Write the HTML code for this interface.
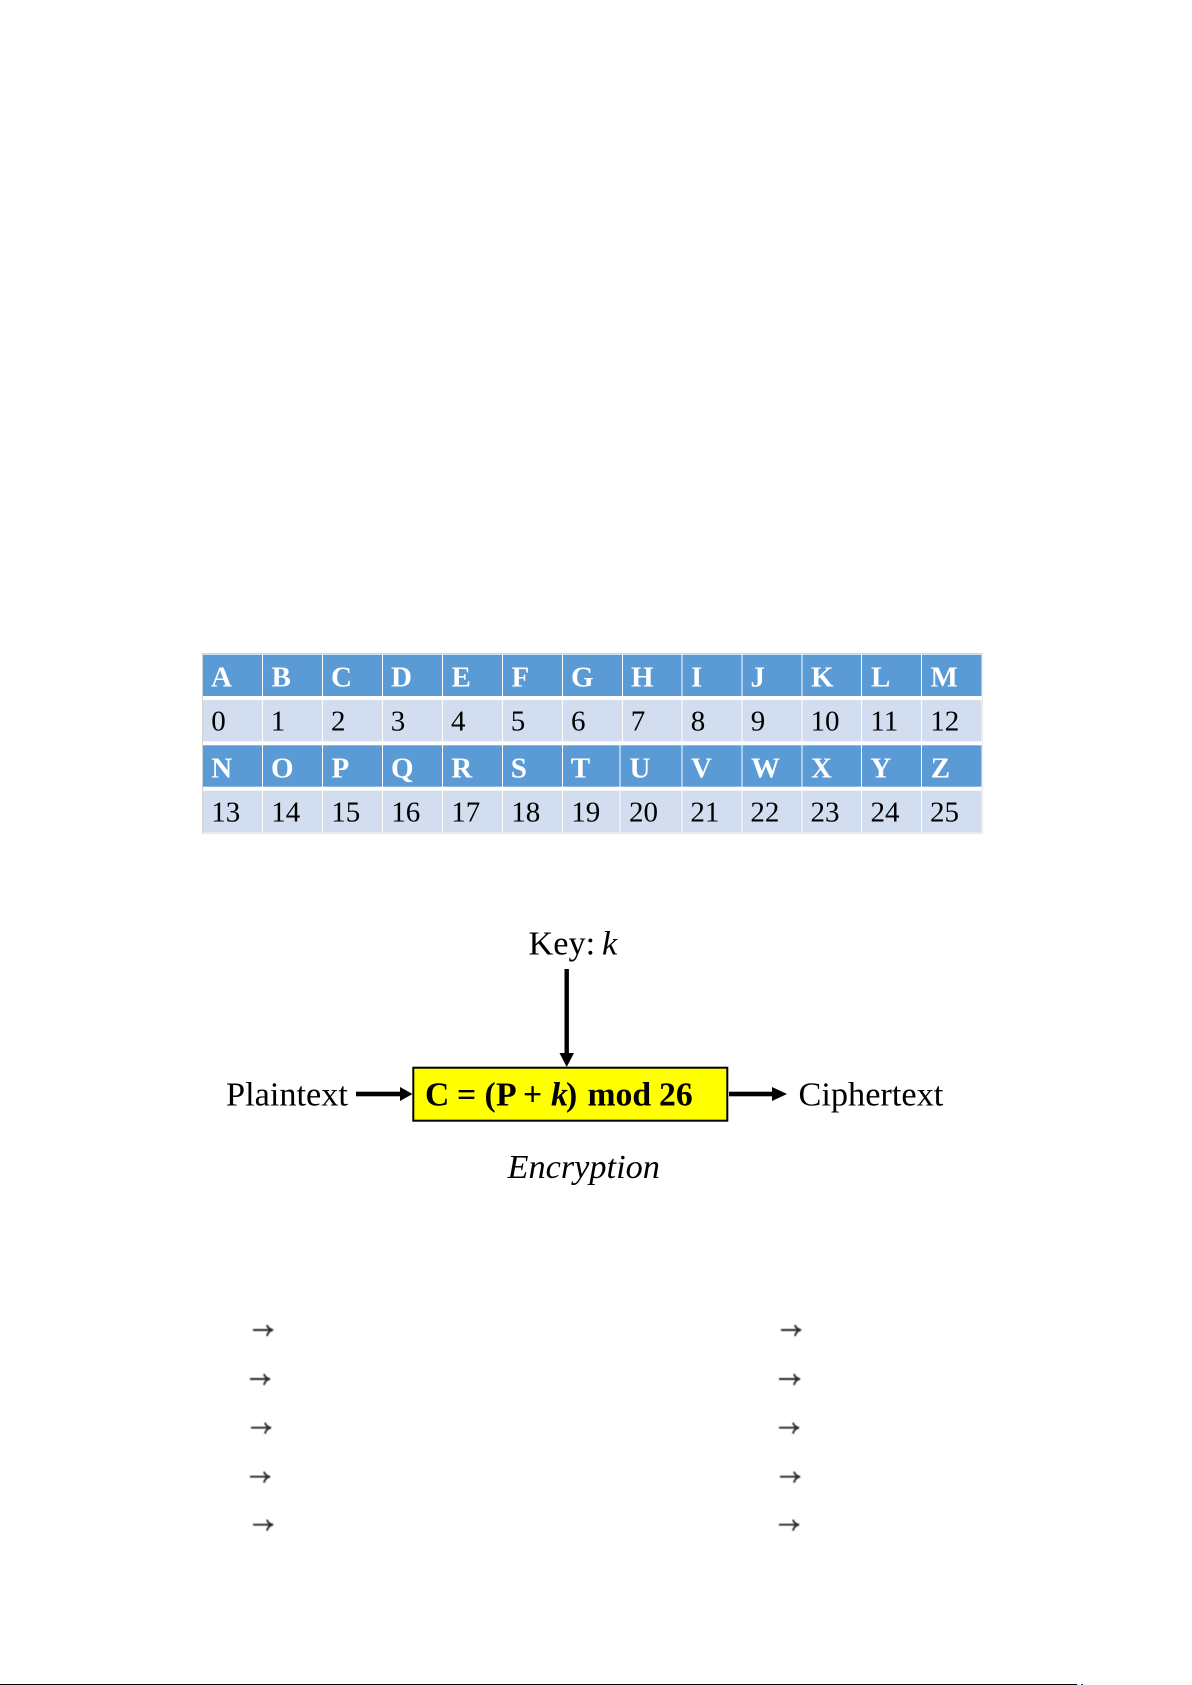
<!DOCTYPE html>
<html><head><meta charset="utf-8"><style>
html,body{margin:0;padding:0;background:#fff;width:1192px;height:1685px;overflow:hidden}
svg{display:block}
text{font-family:"Liberation Serif",serif}
.h{font-weight:bold;font-size:29px;fill:#fff}
.n{font-size:29px;fill:#000}
.d{font-size:34.3px;fill:#000}
.f{font-size:33.7px;font-weight:bold;fill:#000}
</style></head><body>
<svg width="1192" height="1685" viewBox="0 0 1192 1685" xmlns="http://www.w3.org/2000/svg">
<defs><filter id="b" x="-30%" y="-100%" width="160%" height="300%"><feGaussianBlur stdDeviation="0.6"/></filter>
<filter id="s" x="-5%" y="-5%" width="110%" height="110%"><feGaussianBlur stdDeviation="0.3"/></filter></defs>
<rect x="202" y="653" width="780.5" height="180.5" fill="#d4d4d4"/>
<rect x="203" y="654" width="779" height="178.5" fill="#fff"/>
<g fill="#5B9BD5">
<rect x="203" y="654.7" width="59" height="41.3"/><rect x="263" y="654.7" width="59" height="41.3"/><rect x="323" y="654.7" width="59" height="41.3"/><rect x="383" y="654.7" width="59" height="41.3"/><rect x="443" y="654.7" width="59" height="41.3"/><rect x="503" y="654.7" width="59" height="41.3"/><rect x="563" y="654.7" width="59" height="41.3"/><rect x="623" y="654.7" width="58.5" height="41.3"/><rect x="682.5" y="654.7" width="59" height="41.3"/><rect x="742.5" y="654.7" width="59" height="41.3"/><rect x="802.5" y="654.7" width="58.5" height="41.3"/><rect x="862" y="654.7" width="59" height="41.3"/><rect x="922" y="654.7" width="59.5" height="41.3"/>
<rect x="203" y="745.3" width="59" height="41.4"/><rect x="263" y="745.3" width="59" height="41.4"/><rect x="323" y="745.3" width="59" height="41.4"/><rect x="383" y="745.3" width="59" height="41.4"/><rect x="443" y="745.3" width="59" height="41.4"/><rect x="503" y="745.3" width="59" height="41.4"/><rect x="563" y="745.3" width="56.5" height="41.4"/><rect x="620.5" y="745.3" width="61" height="41.4"/><rect x="682.5" y="745.3" width="59" height="41.4"/><rect x="742.5" y="745.3" width="59" height="41.4"/><rect x="802.5" y="745.3" width="58.5" height="41.4"/><rect x="862" y="745.3" width="59" height="41.4"/><rect x="922" y="745.3" width="59.5" height="41.4"/>
</g>
<g fill="#D2DEEF">
<rect x="203" y="700" width="59" height="41.3"/><rect x="263" y="700" width="59" height="41.3"/><rect x="323" y="700" width="59" height="41.3"/><rect x="383" y="700" width="59" height="41.3"/><rect x="443" y="700" width="59" height="41.3"/><rect x="503" y="700" width="59" height="41.3"/><rect x="563" y="700" width="59" height="41.3"/><rect x="623" y="700" width="58.5" height="41.3"/><rect x="682.5" y="700" width="59" height="41.3"/><rect x="742.5" y="700" width="59" height="41.3"/><rect x="802.5" y="700" width="58.5" height="41.3"/><rect x="862" y="700" width="59" height="41.3"/><rect x="922" y="700" width="59.5" height="41.3"/>
<rect x="203" y="790.7" width="59" height="41.3"/><rect x="263" y="790.7" width="59" height="41.3"/><rect x="323" y="790.7" width="59" height="41.3"/><rect x="383" y="790.7" width="59" height="41.3"/><rect x="443" y="790.7" width="59" height="41.3"/><rect x="503" y="790.7" width="59" height="41.3"/><rect x="563" y="790.7" width="56.5" height="41.3"/><rect x="620.5" y="790.7" width="61" height="41.3"/><rect x="682.5" y="790.7" width="59" height="41.3"/><rect x="742.5" y="790.7" width="59" height="41.3"/><rect x="802.5" y="790.7" width="58.5" height="41.3"/><rect x="862" y="790.7" width="59" height="41.3"/><rect x="922" y="790.7" width="59.5" height="41.3"/>
</g>
<g filter="url(#s)">
<text class="h" x="211" y="686.7">A</text><text class="h" x="271.5" y="686.7">B</text><text class="h" x="331" y="686.7">C</text><text class="h" x="391" y="686.7">D</text><text class="h" x="451.5" y="686.7">E</text><text class="h" x="511.5" y="686.7">F</text><text class="h" x="571" y="686.7">G</text><text class="h" x="631" y="686.7">H</text><text class="h" x="691" y="686.7">I</text><text class="h" x="750.5" y="686.7">J</text><text class="h" x="811" y="686.7">K</text><text class="h" x="871" y="686.7">L</text><text class="h" x="930.5" y="686.7">M</text>
<text class="h" x="211.3" y="777.3">N</text><text class="h" x="271" y="777.3">O</text><text class="h" x="331.5" y="777.3">P</text><text class="h" x="391" y="777.3">Q</text><text class="h" x="451.3" y="777.3">R</text><text class="h" x="510.7" y="777.3">S</text><text class="h" x="570.8" y="777.3">T</text><text class="h" x="629.5" y="777.3">U</text><text class="h" x="691" y="777.3">V</text><text class="h" x="751" y="777.3">W</text><text class="h" x="811" y="777.3">X</text><text class="h" x="870.3" y="777.3">Y</text><text class="h" x="930.8" y="777.3">Z</text>
<text class="n" x="211.3" y="730.7">0</text><text class="n" x="270.7" y="730.7">1</text><text class="n" x="331" y="730.7">2</text><text class="n" x="390.7" y="730.7">3</text><text class="n" x="451" y="730.7">4</text><text class="n" x="510.8" y="730.7">5</text><text class="n" x="571" y="730.7">6</text><text class="n" x="630.8" y="730.7">7</text><text class="n" x="690.7" y="730.7">8</text><text class="n" x="750.8" y="730.7">9</text><text class="n" x="810.5" y="730.7">10</text><text class="n" x="870.3" y="730.7">11</text><text class="n" x="930.3" y="730.7">12</text>
<text class="n" x="211.3" y="821.3">13</text><text class="n" x="271.3" y="821.3">14</text><text class="n" x="331.3" y="821.3">15</text><text class="n" x="391.3" y="821.3">16</text><text class="n" x="451.3" y="821.3">17</text><text class="n" x="511.3" y="821.3">18</text><text class="n" x="571.3" y="821.3">19</text><text class="n" x="629" y="821.3">20</text><text class="n" x="690.4" y="821.3">21</text><text class="n" x="750.4" y="821.3">22</text><text class="n" x="810.5" y="821.3">23</text><text class="n" x="870.5" y="821.3">24</text><text class="n" x="930" y="821.3">25</text>
</g>

<rect x="413.3" y="1067.7" width="314" height="53" fill="#ffff00" stroke="#000" stroke-width="2"/>
<rect x="564.5" y="969" width="4.4" height="85"/><polygon points="559.5,1053 574,1053 566.7,1067"/>
<rect x="356" y="1091.7" width="45" height="4.6"/><polygon points="400,1087 400,1101 412.5,1094"/>
<rect x="729" y="1091.7" width="44" height="4.6"/><polygon points="772,1087 772,1101 787,1094"/>

<g filter="url(#s)">
<text class="d" x="528.5" y="954.3">Key:</text><text class="d" x="602" y="954.3" font-style="italic">k</text>
<text class="d" x="226" y="1105.7">Plaintext</text>
<text class="d" x="798.5" y="1105.7">Ciphertext</text>
<text class="d" x="507.5" y="1178.2" font-style="italic">Encryption</text>
<text class="f" x="425" y="1105.7">C</text><text class="f" x="457" y="1105.7">=</text><text class="f" x="484.5" y="1105.7">(</text><text class="f" x="496" y="1105.7">P</text><text class="f" x="523" y="1105.7">+</text><text class="f" x="551" y="1105.7" font-style="italic">k</text><text class="f" x="566" y="1105.7">)</text><text class="f" x="587.5" y="1105.7">mod</text><text class="f" x="659" y="1105.7">26</text>
</g>

<g fill="none" stroke="#2a2a2a" stroke-width="1.9" filter="url(#b)">
<path d="M253 1330H272M267 1325Q268 1329 273 1330Q268 1331 267 1336"/>
<path d="M250 1379H269M264 1374Q265 1378 270 1379Q265 1380 264 1385"/>
<path d="M251 1427.7H270M265 1422.7Q266 1426.7 271 1427.7Q266 1428.7 265 1433.7"/>
<path d="M250 1476.7H269M264 1471.7Q265 1475.7 270 1476.7Q265 1477.7 264 1482.7"/>
<path d="M253 1524.7H272M267 1519.7Q268 1523.7 273 1524.7Q268 1525.7 267 1530.7"/>
<path d="M781 1330H800M795 1325Q796 1329 801 1330Q796 1331 795 1336"/>
<path d="M779 1379H799M794 1374Q795 1378 800 1379Q795 1380 794 1385"/>
<path d="M779 1427.7H798M793 1422.7Q794 1426.7 799 1427.7Q794 1428.7 793 1433.7"/>
<path d="M780 1476.7H799M794 1471.7Q795 1475.7 800 1476.7Q795 1477.7 794 1482.7"/>
<path d="M779 1524.7H798M793 1519.7Q794 1523.7 799 1524.7Q794 1525.7 793 1530.7"/>
</g>

<rect x="0" y="1684" width="1077" height="1" fill="#000"/>
<rect x="1077.5" y="1684" width="1" height="1" fill="#7fe0e0"/>
<rect x="1081" y="1684" width="1" height="1" fill="#d02060"/>
<rect x="1082" y="1684" width="1" height="1" fill="#2020d0"/>
</svg>
</body></html>
